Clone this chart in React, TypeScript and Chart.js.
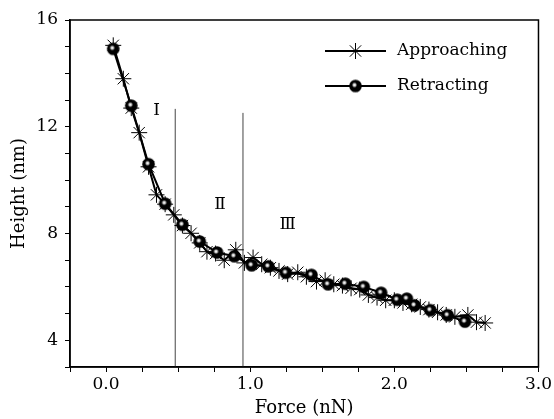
import React, { useEffect, useRef } from "react";
import { Chart, registerables } from "chart.js";

Chart.register(...registerables);

const approachForce = [0.05, 0.12, 0.175, 0.23, 0.295, 0.35, 0.41, 0.47, 0.53, 0.59, 0.65, 0.7, 0.76, 0.82, 0.9, 0.96, 1.02, 1.08, 1.14, 1.2, 1.26, 1.33, 1.39, 1.46, 1.52, 1.58, 1.64, 1.7, 1.76, 1.82, 1.88, 1.94, 2.0, 2.06, 2.12, 2.18, 2.24, 2.3, 2.36, 2.42, 2.51, 2.57, 2.63];
const approachHeight = [15.05, 13.8, 12.7, 11.78, 10.5, 9.45, 9.1, 8.7, 8.3, 8.01, 7.65, 7.32, 7.25, 7.0, 7.39, 6.9, 7.1, 6.85, 6.72, 6.6, 6.48, 6.55, 6.38, 6.2, 6.25, 6.1, 6.05, 5.95, 5.9, 5.7, 5.6, 5.5, 5.5, 5.4, 5.35, 5.25, 5.15, 5.05, 4.95, 4.88, 4.95, 4.68, 4.65];
const retractForce = [0.05, 0.175, 0.295, 0.41, 0.53, 0.65, 0.77, 0.89, 1.01, 1.126, 1.248, 1.425, 1.54, 1.66, 1.788, 1.908, 2.02, 2.087, 2.14, 2.25, 2.37, 2.49];
const retractHeight = [14.92, 12.79, 10.6, 9.12, 8.33, 7.7, 7.29, 7.15, 6.81, 6.77, 6.53, 6.45, 6.1, 6.12, 6.0, 5.78, 5.52, 5.56, 5.31, 5.13, 4.94, 4.7];
const boundaryForce = [0.48, 0.95];
const boundaryTop = [12.67, 12.52];
const regionNames = ["I", "Ⅱ", "Ⅲ"];
const regionForce = [0.35, 0.79, 1.26];
const regionHeight = [12.6, 9.07, 8.32];
const xTickLabels = ["0.0", "1.0", "2.0", "3.0"];
const yTickLabels = ["4", "8", "12", "16"];
const seriesNames = ["Approaching", "Retracting"];
const xTitle = "Force (nN)";
const yTitle = "Height (nm)";

const FONT = "'DejaVu Serif', 'Liberation Serif', serif";

function makeBall(r: number): HTMLCanvasElement {
  const c = document.createElement("canvas");
  const s = Math.ceil(r * 2 + 2);
  c.width = s;
  c.height = s;
  const g = c.getContext("2d")!;
  const cx = s / 2;
  const cy = s / 2;
  g.beginPath();
  g.arc(cx, cy, r, 0, Math.PI * 2);
  g.fillStyle = "#000";
  g.fill();
  const hx = cx - 1;
  const hy = cy - 1;
  const grad = g.createRadialGradient(hx, hy, 0, hx, hy, r * 0.42);
  grad.addColorStop(0, "rgba(255,255,255,1)");
  grad.addColorStop(0.5, "rgba(255,255,255,0.8)");
  grad.addColorStop(1, "rgba(255,255,255,0)");
  g.fillStyle = grad;
  g.beginPath();
  g.arc(cx, cy, r, 0, Math.PI * 2);
  g.fill();
  return c;
}

function drawStar(ctx: CanvasRenderingContext2D, x: number, y: number, r: number) {
  ctx.beginPath();
  for (let k = 0; k < 4; k++) {
    const a = (k * Math.PI) / 4;
    ctx.moveTo(x - Math.cos(a) * r, y - Math.sin(a) * r);
    ctx.lineTo(x + Math.cos(a) * r, y + Math.sin(a) * r);
  }
  ctx.stroke();
}

export default function App() {
  const ref = useRef<HTMLCanvasElement | null>(null);

  useEffect(() => {
    document.body.style.margin = "0";
    const canvas = ref.current;
    if (!canvas) return;
    const ball = makeBall(6.3);

    const framePlugin = {
      id: "frameAndLegend",
      afterDatasetsDraw(chart: any) {
        const ctx = chart.ctx as CanvasRenderingContext2D;
        const xs = chart.scales.x;
        const ys = chart.scales.y;
        ctx.save();
        ctx.fillStyle = "#000";
        ctx.textAlign = "center";
        ctx.textBaseline = "middle";
        ctx.font = `17px ${FONT}`;
        for (let i = 0; i < regionNames.length; i++) {
          ctx.fillText(regionNames[i], xs.getPixelForValue(regionForce[i]), ys.getPixelForValue(regionHeight[i]));
        }
        ctx.restore();
      },
      afterDraw(chart: any) {
        const ctx = chart.ctx as CanvasRenderingContext2D;
        const a = chart.chartArea;
        ctx.save();
        ctx.strokeStyle = "#000";
        ctx.lineWidth = 1.5;
        ctx.strokeRect(a.left, a.top, a.right - a.left, a.bottom - a.top);

        // legend
        const lx0 = 325;
        const lx1 = 386;
        const rows = [51, 86];
        for (let i = 0; i < seriesNames.length; i++) {
          const y = rows[i];
          ctx.strokeStyle = "#000";
          ctx.lineWidth = 2;
          ctx.beginPath();
          ctx.moveTo(lx0, y);
          ctx.lineTo(lx1, y);
          ctx.stroke();
          const mx = (lx0 + lx1) / 2;
          if (i === 0) {
            ctx.lineWidth = 1;
            drawStar(ctx, mx, y, 8);
          } else {
            ctx.drawImage(ball, mx - ball.width / 2, y - ball.height / 2);
          }
          ctx.fillStyle = "#000";
          ctx.font = `17px ${FONT}`;
          ctx.textAlign = "left";
          ctx.textBaseline = "middle";
          ctx.fillText(seriesNames[i], 397, y);
        }
        ctx.restore();
      },
    };

    const boundarySets = boundaryForce.map((f, i) => ({
      label: "boundary" + i,
      data: [
        { x: f, y: 3 },
        { x: f, y: boundaryTop[i] },
      ],
      showLine: true,
      borderColor: "#444",
      borderWidth: 1,
      pointRadius: 0,
      order: 3,
    }));

    const chart = new Chart(canvas, {
      type: "scatter",
      data: {
        datasets: [
          {
            label: seriesNames[1],
            data: retractForce.map((x, i) => ({ x, y: retractHeight[i] })),
            showLine: true,
            borderColor: "#000",
            borderWidth: 2,
            pointStyle: ball as any,
            pointRadius: 6.3,
            order: 0,
          },
          {
            label: seriesNames[0],
            data: approachForce.map((x, i) => ({ x, y: approachHeight[i] })),
            showLine: true,
            borderColor: "#000",
            backgroundColor: "#000",
            borderWidth: 2,
            pointStyle: "star",
            pointRadius: 8,
            pointBorderWidth: 1,
            pointBorderColor: "#000",
            order: 1,
          },
          ...boundarySets,
        ] as any,
      },
      options: {
        responsive: false,
        animation: false,
        events: [],
        layout: { padding: { top: 20, right: 13, left: 0, bottom: 0 } },
        plugins: {
          legend: { display: false },
          tooltip: { enabled: false },
        },
        scales: {
          x: {
            type: "linear",
            min: -0.25,
            max: 3,
            afterFit(scale: any) {
              scale.height = 52;
            },
            border: { display: true, color: "#000", width: 1.5 },
            grid: { display: true, drawOnChartArea: false, drawTicks: true, tickLength: 5, color: "#000", lineWidth: 1 },
            ticks: {
              stepSize: 0.25,
              autoSkip: false,
              maxRotation: 0,
              padding: 2,
              color: "#000",
              font: { family: FONT, size: 17 },
              callback(v: any) {
                const n = Number(v);
                const lab = xTickLabels.find((t) => Math.abs(parseFloat(t) - n) < 1e-6);
                return lab ?? "";
              },
            },
            title: { display: true, text: xTitle, color: "#000", font: { family: FONT, size: 18 }, padding: { top: 0, bottom: 0 } },
          },
          y: {
            type: "linear",
            min: 3,
            max: 16,
            afterFit(scale: any) {
              scale.width = 70;
            },
            border: { display: true, color: "#000", width: 1.5 },
            grid: { display: true, drawOnChartArea: false, drawTicks: true, tickLength: 5, color: "#000", lineWidth: 1 },
            ticks: {
              stepSize: 1,
              autoSkip: false,
              padding: 7,
              color: "#000",
              font: { family: FONT, size: 17 },
              callback(v: any) {
                const n = Number(v);
                const lab = yTickLabels.find((t) => Math.abs(parseFloat(t) - n) < 1e-6);
                return lab ?? "";
              },
            },
            title: { display: true, text: yTitle, color: "#000", font: { family: FONT, size: 18 }, padding: { top: 9, bottom: 0 } },
          },
        },
      } as any,
      plugins: [framePlugin],
    });

    return () => chart.destroy();
  }, []);

  return <canvas ref={ref} width={554} height={419} style={{ display: "block", width: 554, height: 419 }} />;
}
